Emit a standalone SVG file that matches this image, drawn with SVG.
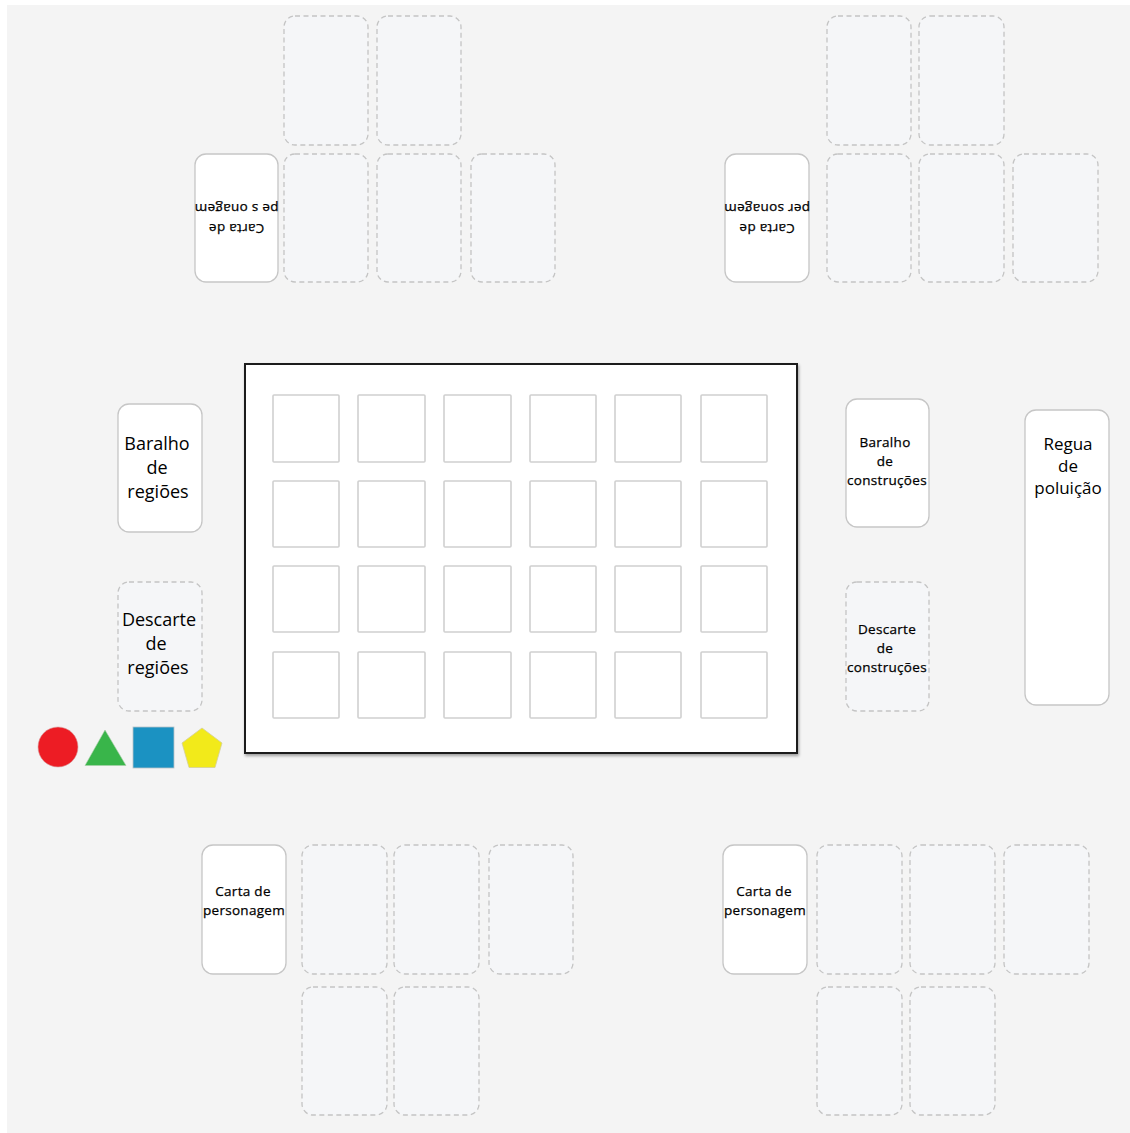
<svg xmlns="http://www.w3.org/2000/svg" width="1130" height="1133" viewBox="0 0 1130 1133">
<style>
.card{fill:#ffffff;stroke:#c6c6c6;stroke-width:1.3}
.slot{fill:#f5f6f8;stroke:#c4c4c4;stroke-width:1.3;stroke-dasharray:5 3.5}
.sq{fill:#ffffff;stroke:#d0d0d0;stroke-width:1.6}
.big{font-family:"Open Sans","Noto Sans",sans-serif;font-size:18px;fill:#000;text-anchor:middle}
.mid{font-family:"Open Sans","Noto Sans",sans-serif;font-size:17px;fill:#000;text-anchor:middle}
.sm{font-family:"Open Sans","Noto Sans",sans-serif;font-size:13.5px;fill:#000;stroke:#000;stroke-width:0.25;text-anchor:middle;letter-spacing:0.3px}
</style>
<defs>
<filter id="shadow" x="-5%" y="-5%" width="110%" height="110%">
<feDropShadow dx="1" dy="2" stdDeviation="1.5" flood-color="#000" flood-opacity="0.35"/>
</filter>
</defs>
<rect x="0" y="0" width="1130" height="1133" fill="#ffffff"/>
<rect x="7" y="5" width="1123" height="1128" fill="#f4f4f4"/>

<g id="player-top-left">
<rect class="card" x="195" y="154" width="83" height="128" rx="11"/>
<g transform="rotate(180 236.5 218)">
<text class="sm" x="236.5" y="212">Carta de</text>
<text class="sm" x="236.5" y="232">pe s onagem</text>
</g>
<rect class="slot" x="284" y="16" width="84" height="129" rx="11"/>
<rect class="slot" x="377" y="16" width="84" height="129" rx="11"/>
<rect class="slot" x="284" y="154" width="84" height="128" rx="11"/>
<rect class="slot" x="377" y="154" width="84" height="128" rx="11"/>
<rect class="slot" x="471" y="154" width="84" height="128" rx="11"/>
</g>

<g id="player-top-right">
<rect class="card" x="725" y="154" width="84" height="128" rx="11"/>
<g transform="rotate(180 767 218)">
<text class="sm" x="767" y="212">Carta de</text>
<text class="sm" x="767" y="232">per sonagem</text>
</g>
<rect class="slot" x="827" y="16" width="84" height="129" rx="11"/>
<rect class="slot" x="919" y="16" width="85" height="129" rx="11"/>
<rect class="slot" x="827" y="154" width="84" height="128" rx="11"/>
<rect class="slot" x="919" y="154" width="85" height="128" rx="11"/>
<rect class="slot" x="1013" y="154" width="85" height="128" rx="11"/>
</g>

<g id="board">
<rect x="245" y="364" width="552" height="389" fill="#ffffff" stroke="#1c1c1c" stroke-width="2" filter="url(#shadow)"/>
<rect class="sq" x="273" y="395" width="66" height="67" rx="1"/>
<rect class="sq" x="358" y="395" width="67" height="67" rx="1"/>
<rect class="sq" x="444" y="395" width="67" height="67" rx="1"/>
<rect class="sq" x="530" y="395" width="66" height="67" rx="1"/>
<rect class="sq" x="615" y="395" width="66" height="67" rx="1"/>
<rect class="sq" x="701" y="395" width="66" height="67" rx="1"/>
<rect class="sq" x="273" y="481" width="66" height="66" rx="1"/>
<rect class="sq" x="358" y="481" width="67" height="66" rx="1"/>
<rect class="sq" x="444" y="481" width="67" height="66" rx="1"/>
<rect class="sq" x="530" y="481" width="66" height="66" rx="1"/>
<rect class="sq" x="615" y="481" width="66" height="66" rx="1"/>
<rect class="sq" x="701" y="481" width="66" height="66" rx="1"/>
<rect class="sq" x="273" y="566" width="66" height="66" rx="1"/>
<rect class="sq" x="358" y="566" width="67" height="66" rx="1"/>
<rect class="sq" x="444" y="566" width="67" height="66" rx="1"/>
<rect class="sq" x="530" y="566" width="66" height="66" rx="1"/>
<rect class="sq" x="615" y="566" width="66" height="66" rx="1"/>
<rect class="sq" x="701" y="566" width="66" height="66" rx="1"/>
<rect class="sq" x="273" y="652" width="66" height="66" rx="1"/>
<rect class="sq" x="358" y="652" width="67" height="66" rx="1"/>
<rect class="sq" x="444" y="652" width="67" height="66" rx="1"/>
<rect class="sq" x="530" y="652" width="66" height="66" rx="1"/>
<rect class="sq" x="615" y="652" width="66" height="66" rx="1"/>
<rect class="sq" x="701" y="652" width="66" height="66" rx="1"/>
</g>

<g id="baralho-regioes">
<rect class="card" x="118" y="404" width="84" height="128" rx="11"/>
<text class="big" x="157" y="450">Baralho</text>
<text class="big" x="157" y="474">de</text>
<text class="big" x="158" y="498">regiões</text>
</g>
<g id="descarte-regioes">
<rect class="slot" x="118" y="582" width="84" height="129" rx="11"/>
<text class="big" x="159" y="626">Descarte</text>
<text class="big" x="156" y="650">de</text>
<text class="big" x="158" y="674">regiões</text>
</g>

<g id="baralho-construcoes">
<rect class="card" x="846" y="399" width="83" height="128" rx="11"/>
<text class="sm" x="885" y="447">Baralho</text>
<text class="sm" x="885" y="466">de</text>
<text class="sm" x="887" y="485">construções</text>
</g>
<g id="descarte-construcoes">
<rect class="slot" x="846" y="582" width="83" height="129" rx="11"/>
<text class="sm" x="887" y="634">Descarte</text>
<text class="sm" x="885" y="653">de</text>
<text class="sm" x="887" y="672">construções</text>
</g>
<g id="regua-poluicao">
<rect class="card" x="1025" y="410" width="84" height="295" rx="11"/>
<text class="mid" x="1068" y="450">Regua</text>
<text class="mid" x="1068" y="472">de</text>
<text class="mid" x="1068" y="494">poluição</text>
</g>

<g id="tokens">
<circle cx="58" cy="747" r="20" fill="#ed1c24" stroke="#d8a0a0" stroke-width="0.6"/>
<polygon points="105,730 85,765.5 126,765.5" fill="#39b54a" stroke="#a8cfa8" stroke-width="0.6"/>
<rect x="133" y="727" width="41" height="41" fill="#1b92c2" stroke="#b8c4c8" stroke-width="0.8"/>
<polygon points="202,728 222,743 215,767.5 189,767.5 182,743" fill="#f2ea1a" stroke="#d4cf9a" stroke-width="0.8"/>
</g>

<g id="player-bottom-left">
<rect class="card" x="202" y="845" width="84" height="129" rx="11"/>
<text class="sm" x="243" y="896">Carta de</text>
<text class="sm" x="244" y="915">personagem</text>
<rect class="slot" x="302" y="845" width="85" height="129" rx="11"/>
<rect class="slot" x="394" y="845" width="85" height="129" rx="11"/>
<rect class="slot" x="489" y="845" width="84" height="129" rx="11"/>
<rect class="slot" x="302" y="987" width="85" height="128" rx="11"/>
<rect class="slot" x="394" y="987" width="85" height="128" rx="11"/>
</g>

<g id="player-bottom-right">
<rect class="card" x="723" y="845" width="84" height="129" rx="11"/>
<text class="sm" x="764" y="896">Carta de</text>
<text class="sm" x="765" y="915">personagem</text>
<rect class="slot" x="817" y="845" width="85" height="129" rx="11"/>
<rect class="slot" x="910" y="845" width="85" height="129" rx="11"/>
<rect class="slot" x="1004" y="845" width="85" height="129" rx="11"/>
<rect class="slot" x="817" y="987" width="85" height="128" rx="11"/>
<rect class="slot" x="910" y="987" width="85" height="128" rx="11"/>
</g>
</svg>
